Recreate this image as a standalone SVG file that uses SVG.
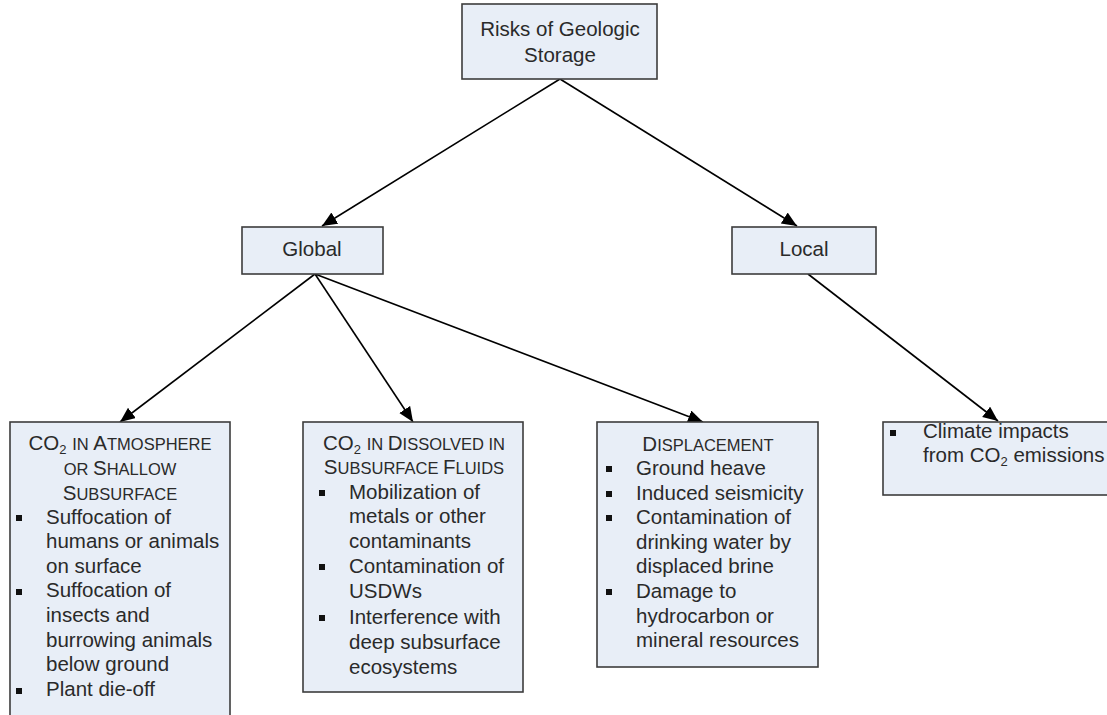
<svg xmlns="http://www.w3.org/2000/svg" width="1107" height="715" viewBox="0 0 1107 715">
<style>
.box{fill:#E8EEF7;stroke:#3c3c3c;stroke-width:1.6}
text{font-family:"Liberation Sans",Arial,sans-serif;font-size:20.5px;fill:#2a2a2a}
.c{text-anchor:middle}
.sc{font-size:16.5px}
.sub{font-size:13px}
.bul{fill:#111}
.con{stroke:#000;stroke-width:1.6;fill:none;marker-end:url(#ah)}
</style>
<defs>
<marker id="ah" markerUnits="userSpaceOnUse" markerWidth="16" markerHeight="14" refX="15" refY="6.5" orient="auto">
<path d="M0,0 L15,6.5 L0,13 z" fill="#000"/>
</marker>
</defs>
<rect width="1107" height="715" fill="#fff"/>
<g id="connectors">
<line class="con" x1="560" y1="79" x2="322" y2="226"/>
<line class="con" x1="560" y1="79" x2="797" y2="226"/>
<line class="con" x1="315" y1="274" x2="120" y2="422"/>
<line class="con" x1="315" y1="274" x2="413" y2="422"/>
<line class="con" x1="315" y1="274" x2="703" y2="422"/>
<line class="con" x1="808" y1="274" x2="998" y2="421"/>
</g>
<g id="root">
<rect class="box" x="462" y="4" width="195" height="75"/>
<text class="c" x="560" y="36">Risks of Geologic</text>
<text class="c" x="560" y="62">Storage</text>
</g>
<g id="global">
<rect class="box" x="242" y="227" width="141" height="47"/>
<text class="c" x="312" y="256">Global</text>
</g>
<g id="local">
<rect class="box" x="732" y="227" width="144" height="47"/>
<text class="c" x="804" y="256">Local</text>
</g>
<g id="atmosphere">
<rect class="box" x="10" y="422" width="220" height="300"/>
<text class="c" x="120" y="450">CO<tspan class="sub" dy="4">2</tspan><tspan dy="-4"> </tspan><tspan class="sc">IN </tspan>A<tspan class="sc">TMOSPHERE</tspan></text>
<text class="c" x="120" y="475"><tspan class="sc">OR </tspan>S<tspan class="sc">HALLOW</tspan></text>
<text class="c" x="120" y="500">S<tspan class="sc">UBSURFACE</tspan></text>
<rect class="bul" x="16" y="515" width="6" height="6"/>
<rect class="bul" x="16" y="589" width="6" height="6"/>
<rect class="bul" x="16" y="688" width="6" height="6"/>
<text x="46" y="524">Suffocation of</text>
<text x="46" y="548">humans or animals</text>
<text x="46" y="573">on surface</text>
<text x="46" y="597">Suffocation of</text>
<text x="46" y="622">insects and</text>
<text x="46" y="647">burrowing animals</text>
<text x="46" y="671">below ground</text>
<text x="46" y="696">Plant die-off</text>
</g>
<g id="dissolved">
<rect class="box" x="303" y="422" width="220" height="270"/>
<text class="c" x="414" y="450">CO<tspan class="sub" dy="4">2</tspan><tspan dy="-4"> </tspan><tspan class="sc">IN </tspan>D<tspan class="sc">ISSOLVED IN</tspan></text>
<text class="c" x="414" y="474">S<tspan class="sc">UBSURFACE </tspan>F<tspan class="sc">LUIDS</tspan></text>
<rect class="bul" x="319" y="490" width="6" height="6"/>
<rect class="bul" x="319" y="564" width="6" height="6"/>
<rect class="bul" x="319" y="615" width="6" height="6"/>
<text x="349" y="499">Mobilization of</text>
<text x="349" y="523">metals or other</text>
<text x="349" y="548">contaminants</text>
<text x="349" y="573">Contamination of</text>
<text x="349" y="598">USDWs</text>
<text x="349" y="624">Interference with</text>
<text x="349" y="649">deep subsurface</text>
<text x="349" y="674">ecosystems</text>
</g>
<g id="displacement">
<rect class="box" x="597" y="422" width="221" height="245"/>
<text class="c" x="708" y="451">D<tspan class="sc">ISPLACEMENT</tspan></text>
<rect class="bul" x="606" y="466" width="6" height="6"/>
<rect class="bul" x="606" y="491" width="6" height="6"/>
<rect class="bul" x="606" y="515" width="6" height="6"/>
<rect class="bul" x="606" y="589" width="6" height="6"/>
<text x="636" y="475">Ground heave</text>
<text x="636" y="500">Induced seismicity</text>
<text x="636" y="524">Contamination of</text>
<text x="636" y="549">drinking water by</text>
<text x="636" y="573">displaced brine</text>
<text x="636" y="598">Damage to</text>
<text x="636" y="623">hydrocarbon or</text>
<text x="636" y="647">mineral resources</text>
</g>
<g id="climate">
<rect class="box" x="883" y="422" width="230" height="73"/>
<rect class="bul" x="890" y="430" width="6" height="6"/>
<text x="923" y="438">Climate impacts</text>
<text x="923" y="462">from CO<tspan class="sub" dy="4">2</tspan><tspan dy="-4"> emissions</tspan></text>
</g>
</svg>
